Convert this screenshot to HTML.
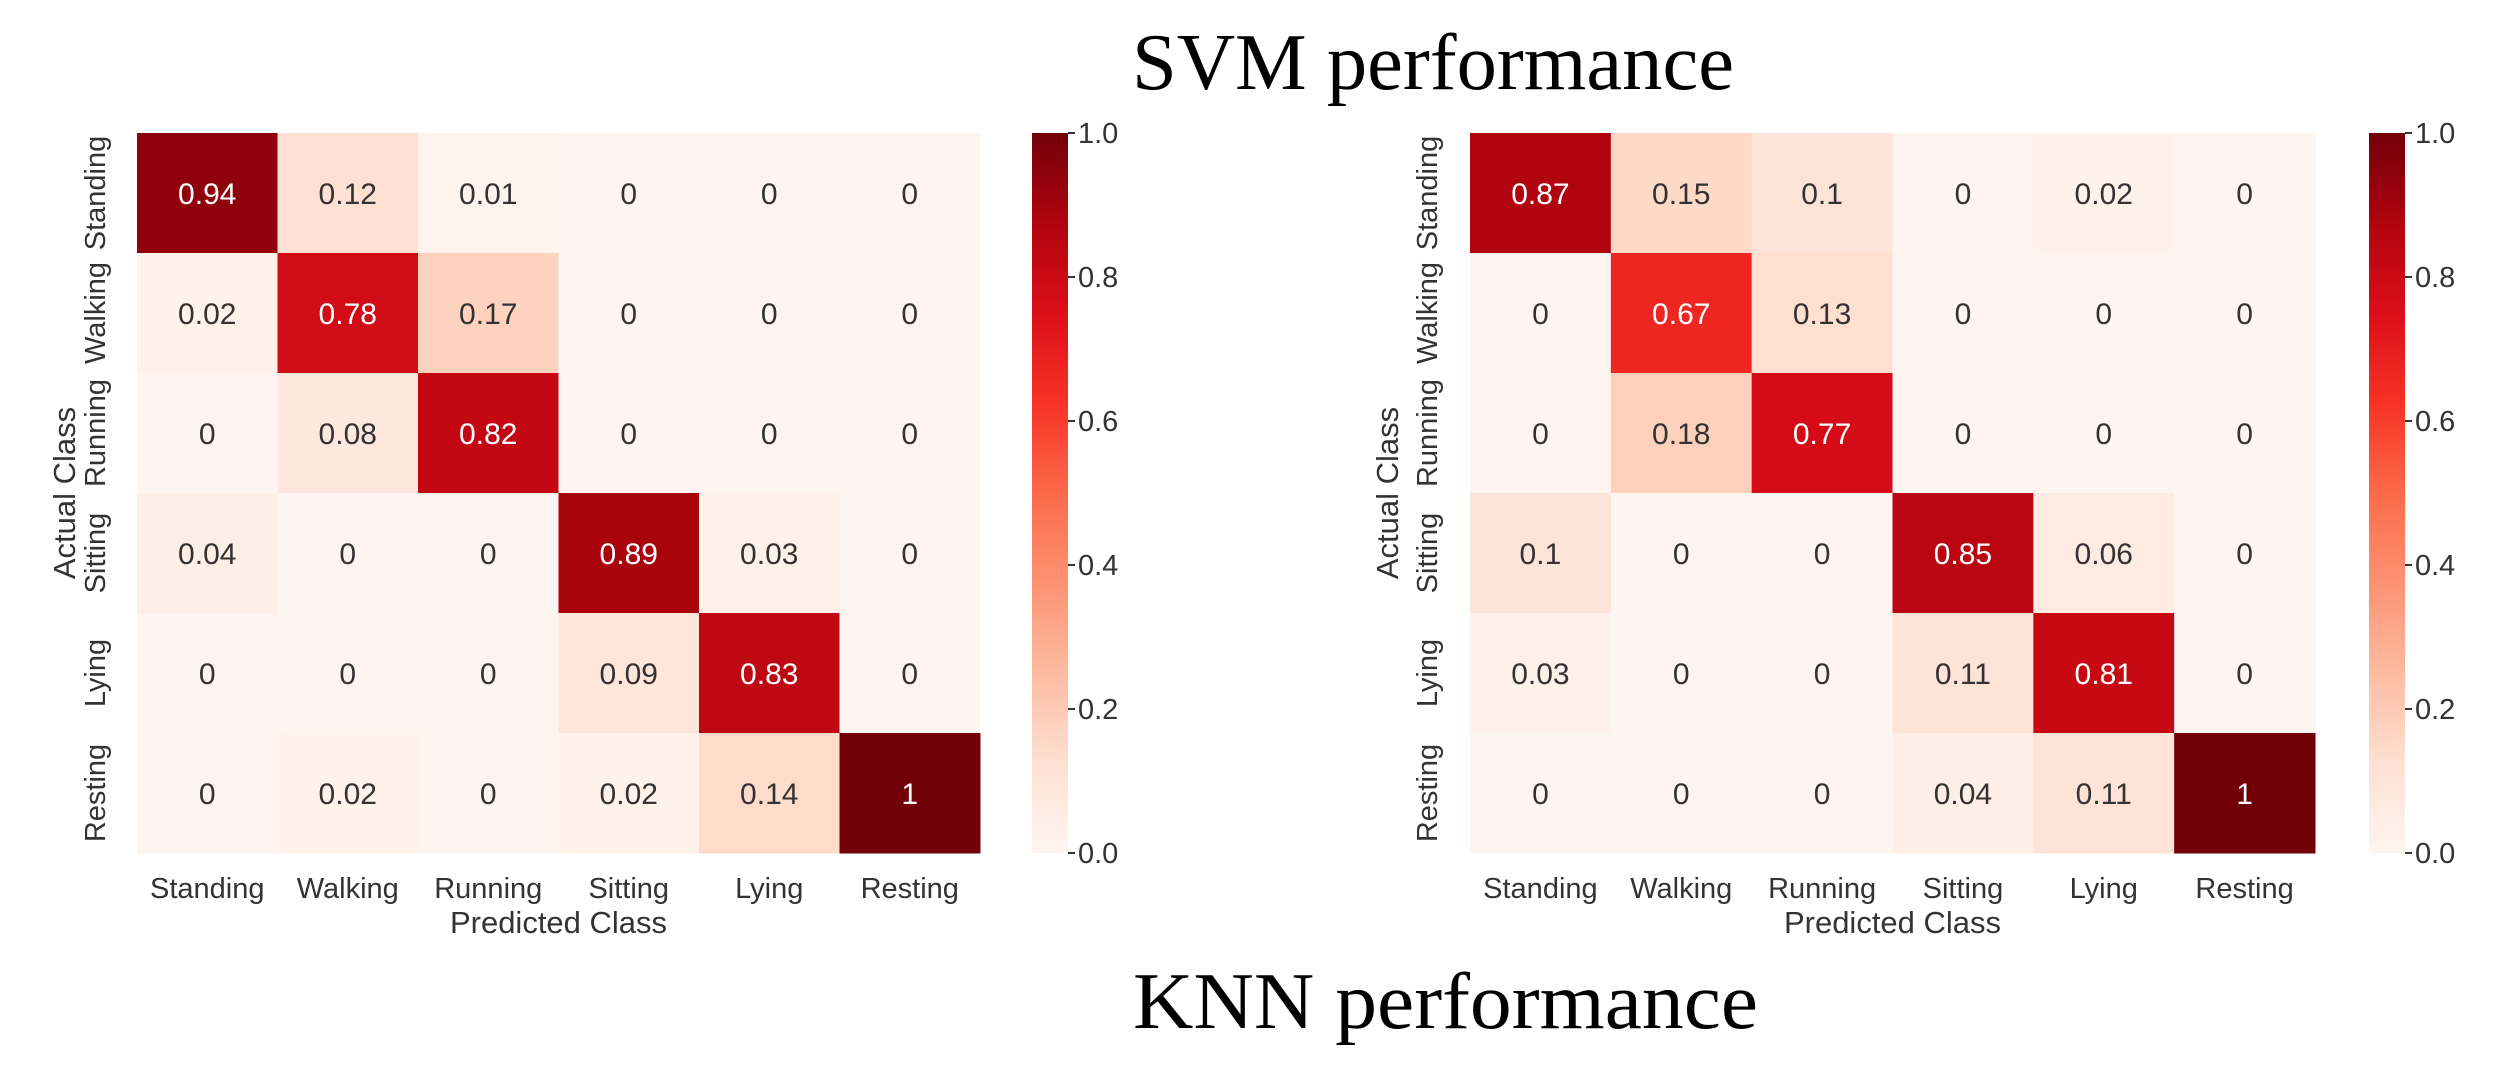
<!DOCTYPE html>
<html><head><meta charset="utf-8"><style>
html,body{margin:0;padding:0;background:#fff;}
svg{display:block;}
</style></head><body>
<svg id="fig" width="2510" height="1085" viewBox="0 0 2510 1085" xmlns="http://www.w3.org/2000/svg">
<defs>
<linearGradient id="reds" x1="0" y1="1" x2="0" y2="0">
<stop offset="0" stop-color="#fff5f0"/><stop offset="0.125" stop-color="#fee0d2"/><stop offset="0.25" stop-color="#fcbba1"/><stop offset="0.375" stop-color="#fc9272"/><stop offset="0.5" stop-color="#fb6a4a"/><stop offset="0.625" stop-color="#f83226"/><stop offset="0.75" stop-color="#dc0e18"/><stop offset="0.875" stop-color="#b0040f"/><stop offset="1" stop-color="#720008"/>
</linearGradient>
</defs>
<text x="1132" y="89" font-family="Liberation Serif, serif" font-size="80" textLength="602" lengthAdjust="spacingAndGlyphs">SVM performance</text>
<text x="1133" y="1028" font-family="Liberation Serif, serif" font-size="80" textLength="625" lengthAdjust="spacingAndGlyphs">KNN performance</text>
<g id="left"></g>
<g id="right"></g>
</svg>
<script>
const classes = ["Standing","Walking","Running","Sitting","Lying","Resting"];
const svmValues = [
 [0.94,0.12,0.01,0,0,0],
 [0.02,0.78,0.17,0,0,0],
 [0,0.08,0.82,0,0,0],
 [0.04,0,0,0.89,0.03,0],
 [0,0,0,0.09,0.83,0],
 [0,0.02,0,0.02,0.14,1]
];
const knnValues = [
 [0.87,0.15,0.1,0,0.02,0],
 [0,0.67,0.13,0,0,0],
 [0,0.18,0.77,0,0,0],
 [0.1,0,0,0.85,0.06,0],
 [0.03,0,0,0.11,0.81,0],
 [0,0,0,0.04,0.11,1]
];
const cbarTicks = [0,0.2,0.4,0.6,0.8,1.0];
const cbarTickLabels = ["0.0","0.2","0.4","0.6","0.8","1.0"];

const stops=[[255,245,240],[254,224,210],[252,187,161],[252,146,114],[251,106,74],[248,50,38],[220,14,24],[176,4,15],[114,0,8]];
function reds(v){v=Math.max(0,Math.min(1,v));const p=v*8,i=Math.min(7,Math.floor(p)),f=p-i;
 const c=stops[i].map((a,k)=>Math.round(a+(stops[i+1][k]-a)*f));return `rgb(${c[0]},${c[1]},${c[2]})`;}
const NS="http://www.w3.org/2000/svg";
function el(tag,attrs,parent,txt){const e=document.createElementNS(NS,tag);for(const k in attrs)e.setAttribute(k,attrs[k]);if(txt!==undefined)e.textContent=txt;parent.appendChild(e);return e;}
const FONT="Liberation Sans, Arial, sans-serif";

function drawMatrix(g,vals,cfg){
 const n=classes.length,cw=(cfg.x1-cfg.x0)/n,ch=(cfg.y1-cfg.y0)/n;
 const xs=i=>cfg.x0+i*cw, ys=i=>cfg.y0+i*ch;
 vals.forEach((row,r)=>row.forEach((v,c)=>{
  const rect=el('rect',{x:xs(c),y:ys(r),width:cw+0.5,height:ch+0.5,fill:reds(v)},g);
  
  
  const t=el('text',{x:xs(c)+cw/2,y:ys(r)+ch/2+11,'text-anchor':'middle','font-family':FONT,'font-size':30,fill:v>0.5?'#fff':'#333'},g,String(v));
  
  
 }));
 classes.forEach((c,i)=>{
  const t=el('text',{x:xs(i)+cw/2,y:cfg.y1+45,'text-anchor':'middle','font-family':FONT,'font-size':29,fill:'#333'},g,c);
  
  
  const yy=ys(i)+ch/2, xx=cfg.ytx;
  const u=el('text',{x:xx,y:yy,'text-anchor':'middle','font-family':FONT,'font-size':29,fill:'#333',transform:`rotate(-90 ${xx} ${yy})`},g,c);
  
  
 });
 const xl=el('text',{x:(cfg.x0+cfg.x1)/2,y:cfg.y1+80,'text-anchor':'middle','font-family':FONT,'font-size':31,fill:'#333'},g,'Predicted Class');
 
 
 const cy=(cfg.y0+cfg.y1)/2;
 const yl=el('text',{x:cfg.ylx,y:cy,'text-anchor':'middle','font-family':FONT,'font-size':31,fill:'#333',transform:`rotate(-90 ${cfg.ylx} ${cy})`},g,'Actual Class');
 
 
 const cb=el('rect',{x:cfg.cb0,y:cfg.y0,width:cfg.cb1-cfg.cb0,height:cfg.y1-cfg.y0,fill:'url(#reds)'},g);
 
 
 const cys=v=>cfg.y1-v*(cfg.y1-cfg.y0);
 cbarTicks.forEach((v,i)=>{
  el('line',{x1:cfg.cb1,x2:cfg.cb1+7,y1:cys(v),y2:cys(v),stroke:'#333','stroke-width':2},g);
  const t=el('text',{x:cfg.cb1+10,y:cys(v)+10,'font-family':FONT,'font-size':29,fill:'#333'},g,cbarTickLabels[i]);
  
  
 });
}
drawMatrix(document.getElementById('left'),svmValues,{x0:137,x1:980,y0:133,y1:853,ytx:105,ylx:75,cb0:1032,cb1:1068});
drawMatrix(document.getElementById('right'),knnValues,{x0:1470,x1:2315,y0:133,y1:853,ytx:1437,ylx:1398,cb0:2369,cb1:2405});
</script>
</body></html>
